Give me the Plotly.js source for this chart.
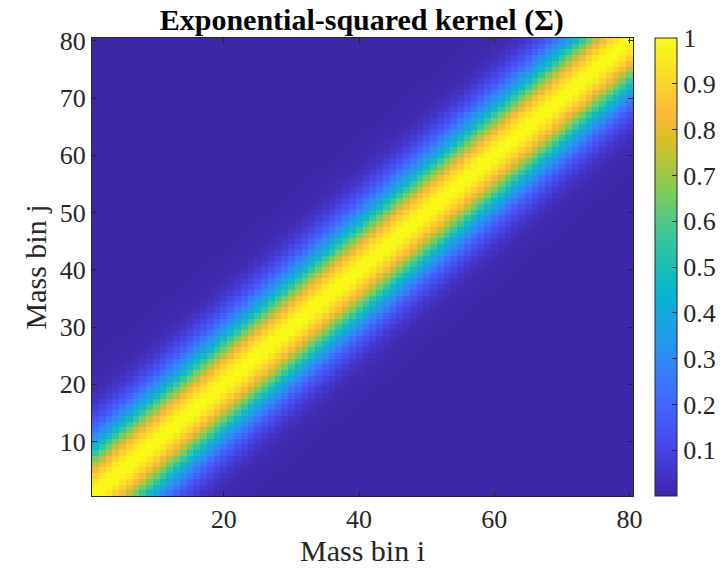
<!DOCTYPE html>
<html>
<head>
<meta charset="utf-8">
<script src="https://cdn.plot.ly/plotly-3.0.1.min.js"></script>
<style>html,body{margin:0;padding:0;background:#fff;}#chart{width:726px;height:568px;}</style>
</head>
<body>
<div id="chart"></div>
<script>
// Bin indices
const binsI = Array.from({length: 80}, (_, k) => k + 1);
const binsJ = Array.from({length: 80}, (_, k) => k + 1);
// Kernel value vs. bin separation |i-j|; beyond the list it is ~0
const kernelByOffset = [1.00, 0.99, 0.95, 0.90, 0.83, 0.74, 0.65, 0.56, 0.47, 0.38,
                        0.31, 0.24, 0.18, 0.135, 0.10, 0.07, 0.048, 0.033, 0.022, 0.014,
                        0.009, 0.005, 0.003, 0.002];
const xTicks = [20, 40, 60, 80];
const yTicks = [10, 20, 30, 40, 50, 60, 70, 80];
const cbTicks = [0.1, 0.2, 0.3, 0.4, 0.5, 0.6, 0.7, 0.8, 0.9, 1];

const z = binsJ.map(j => binsI.map(i => {
  const d = Math.abs(i - j);
  return d < kernelByOffset.length ? kernelByOffset[d] : 0;
}));

const parula = [
  [0.000, 'rgb(62,38,168)'],
  [0.111, 'rgb(71,71,235)'],
  [0.222, 'rgb(62,111,255)'],
  [0.333, 'rgb(39,150,235)'],
  [0.444, 'rgb(8,181,208)'],
  [0.556, 'rgb(49,198,159)'],
  [0.667, 'rgb(129,204,89)'],
  [0.778, 'rgb(220,189,41)'],
  [0.840, 'rgb(252,186,61)'],
  [0.889, 'rgb(252,207,48)'],
  [1.000, 'rgb(249,251,21)']
];

const serif = 'Liberation Serif, Times New Roman, serif';
const tickFont = {family: serif, size: 26, color: '#262626'};

const trace = {
  type: 'heatmap',
  x: binsI, y: binsJ, z: z,
  zmin: 0, zmax: 1,
  colorscale: parula,
  zsmooth: false,
  colorbar: {
    x: (655 - 92) / 541, xanchor: 'left', xref: 'paper',
    y: 0.5, yanchor: 'middle', len: 1, lenmode: 'fraction',
    thickness: 22, thicknessmode: 'pixels',
    xpad: 0, ypad: 0,
    outlinewidth: 1, outlinecolor: '#262626',
    ticks: 'inside', ticklen: 5, tickcolor: '#262626', tickwidth: 1,
    tickvals: cbTicks, ticktext: cbTicks.map(String),
    tickfont: tickFont, ticklabelposition: 'outside'
  }
};

const layout = {
  width: 726, height: 568,
  paper_bgcolor: '#fff', plot_bgcolor: '#fff',
  margin: {l: 92, r: 93, t: 37.5, b: 72, autoexpand: false},
  title: {
    text: '<b>Exponential-squared kernel (Σ)</b>',
    font: {family: serif, size: 30, color: '#000'},
    x: 362 / 726, xanchor: 'center', xref: 'paper',
    y: 1 - 19 / 568, yanchor: 'middle', yref: 'container'
  },
  xaxis: {
    range: [0.5, 80.5], tickvals: xTicks, ticktext: xTicks.map(String),
    ticks: 'inside', ticklen: 5, tickcolor: '#262626', tickwidth: 1,
    showline: true, linecolor: '#262626', linewidth: 1, mirror: 'ticks',
    showgrid: false, zeroline: false, tickfont: tickFont, automargin: false,
    title: {text: 'Mass bin i', font: {family: serif, size: 30, color: '#262626'}, standoff: 2}
  },
  yaxis: {
    range: [0.5, 80.5], tickvals: yTicks, ticktext: yTicks.map(String),
    ticks: 'inside', ticklen: 5, tickcolor: '#262626', tickwidth: 1,
    showline: true, linecolor: '#262626', linewidth: 1, mirror: 'ticks',
    showgrid: false, zeroline: false, tickfont: tickFont, automargin: false,
    title: {text: 'Mass bin j', font: {family: serif, size: 30, color: '#262626'}, standoff: 4}
  }
};

Plotly.newPlot('chart', [trace], layout, {displayModeBar: false, staticPlot: true});
</script>
</body>
</html>
